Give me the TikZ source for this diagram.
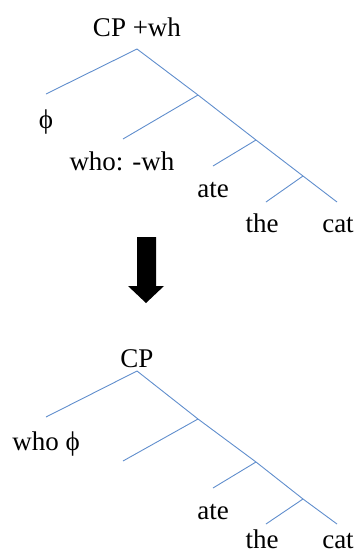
\documentclass[tikz,border=0pt]{standalone}
\usepackage{fontspec}
\setmainfont{Liberation Serif}
\definecolor{branch}{RGB}{96,142,205}
\begin{document}
\begin{tikzpicture}[x=1pt,y=-1pt,
  br/.style={draw=branch,line width=0.9pt},
  lab/.style={anchor=base,inner sep=0pt,font=\fontsize{27}{31}\selectfont}]
\useasboundingbox (0,0) rectangle (358,555);
% ---------- top tree ----------
\node[lab] (cpwh) at (137,36) {CP +wh};
\coordinate (a0) at (137,49);
\coordinate (l0) at (46,94);
\coordinate (n1) at (198,95);
\coordinate (l1) at (123,139);
\coordinate (n2) at (256,140);
\coordinate (l2) at (213,166);
\coordinate (n3) at (303,176);
\coordinate (l3) at (266,202);
\coordinate (e) at (337,202);
\draw[br] (l0) -- (a0) -- (n1) -- (n2) -- (n3) -- (e);
\draw[br] (n1) -- (l1);
\draw[br] (n2) -- (l2);
\draw[br] (n3) -- (l3);
\node[lab] (phi) at (46,128) {ϕ};
\node[lab] (who) at (122,170) {who: -wh};
\node[lab] (ate) at (213,197) {ate};
\node[lab] (the) at (262,232) {the};
\node[lab] (cat) at (338,232) {cat};
% ---------- arrow ----------
\fill[black] (137,237) -- (156,237) -- (156,286) -- (164,286) -- (146,303)
  -- (128,286) -- (137,286) -- cycle;
% ---------- bottom tree ----------
\node[lab] (cp) at (137,367) {CP};
\coordinate (b0) at (137,371);
\coordinate (m0) at (46,417);
\coordinate (k1) at (198,419);
\coordinate (m1) at (123,461);
\coordinate (k2) at (256,462);
\coordinate (m2) at (213,488);
\coordinate (k3) at (303,499);
\coordinate (m3) at (266,524);
\coordinate (f) at (337,524);
\draw[br] (m0) -- (b0) -- (k1) -- (k2) -- (k3) -- (f);
\draw[br] (k1) -- (m1);
\draw[br] (k2) -- (m2);
\draw[br] (k3) -- (m3);
\node[lab] (whophi) at (46,450) {who ϕ};
\node[lab] (ate2) at (213,519) {ate};
\node[lab] (the2) at (262,548) {the};
\node[lab] (cat2) at (338,548) {cat};
\end{tikzpicture}
\end{document}
